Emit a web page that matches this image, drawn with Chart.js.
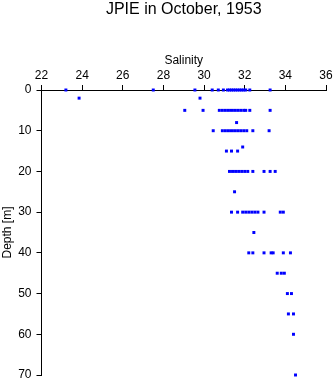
<!DOCTYPE html>
<html>
<head>
<meta charset="utf-8">
<script src="https://cdn.jsdelivr.net/npm/chart.js@4/dist/chart.umd.min.js"></script>
<style>
    html, body { margin: 0; padding: 0; background: #fff; }
    #wrap { width: 335px; height: 384px; position: relative; }
</style>
</head>
<body>
<div id="wrap"><canvas id="ctdChart"></canvas></div>
<script>
// sampling depths [m] and the salinity readings taken at each depth
const depths = [0, 2, 5, 8, 10, 14, 15, 20, 25, 30, 35, 40, 45, 50, 55, 60, 70];
const salinityAt = [
    [23.2, 27.5, 29.55, 30.4, 30.7, 30.95, 31.15, 31.25, 31.35, 31.45, 31.55, 31.65, 31.75, 31.85, 31.95, 32.05, 32.25, 33.25],
    [23.85, 29.8],
    [29.05, 29.95, 30.75, 30.9, 31.05, 31.2, 31.35, 31.5, 31.65, 31.8, 31.95, 32.05, 32.25, 33.25],
    [31.6],
    [30.45, 30.9, 31.05, 31.2, 31.35, 31.5, 31.65, 31.8, 31.95, 32.1, 32.4, 33.2],
    [31.9],
    [31.1, 31.35, 31.65],
    [31.25, 31.4, 31.55, 31.7, 31.85, 32.0, 32.15, 32.4, 32.95, 33.25, 33.5],
    [31.5],
    [31.35, 31.65, 31.9, 32.05, 32.2, 32.35, 32.5, 32.65, 32.95, 33.75, 33.9],
    [32.45],
    [32.2, 32.4, 32.95, 33.3, 33.4, 33.9, 34.25],
    [33.6, 33.8, 33.95],
    [34.1, 34.3],
    [34.15, 34.4],
    [34.4],
    [34.5]
];
const salinityTicks = [22, 24, 26, 28, 30, 32, 34, 36];
const depthTicks = [0, 10, 20, 30, 40, 50, 60, 70];

document.addEventListener('DOMContentLoaded', () => {
    const ctx = document.getElementById('ctdChart').getContext('2d');

    const points = [];
    depths.forEach((d, i) => {
        salinityAt[i].forEach(s => points.push({ x: s, y: d }));
    });

    const font = { family: '"Liberation Sans", Arial, sans-serif', size: 12 };

    new Chart(ctx, {
        type: 'scatter',
        data: {
            datasets: [{
                label: 'Salinity',
                data: points,
                backgroundColor: '#0000ff',
                pointStyle: 'rect',
                pointRadius: 2.1,
                pointBorderWidth: 0,
                pointHoverRadius: 2.1,
                clip: false
            }]
        },
        options: {
            responsive: true,
            maintainAspectRatio: false,
            animation: false,
            layout: { padding: { left: 0, right: 9, top: 0, bottom: 9 } },
            plugins: {
                legend: { display: false },
                tooltip: { enabled: false },
                title: {
                    display: true,
                    text: 'JPIE in October, 1953',
                    fullSize: false,
                    color: '#000',
                    font: { family: font.family, size: 16, weight: 'normal' },
                    padding: { top: 0, bottom: 0 }
                }
            },
            scales: {
                x: {
                    type: 'linear',
                    position: 'top',
                    min: 22,
                    max: 36,
                    afterBuildTicks: (scale) => {
                        scale.ticks = salinityTicks.map(v => ({ value: v }));
                    },
                    afterFit: (scale) => { scale.height = 70.8; },
                    title: {
                        display: true,
                        text: 'Salinity',
                        color: '#000',
                        font: font,
                        padding: { top: 34.6, bottom: 0 }
                    },
                    ticks: { color: '#000', font: font, padding: 2, maxRotation: 0 },
                    grid: {
                        drawOnChartArea: false,
                        tickLength: 5,
                        color: '#000',
                        lineWidth: 1
                    },
                    border: { color: '#000', width: 1 }
                },
                y: {
                    type: 'linear',
                    position: 'left',
                    reverse: true,
                    min: 0,
                    max: 70,
                    afterBuildTicks: (scale) => {
                        scale.ticks = depthTicks.map(v => ({ value: v }));
                    },
                    afterFit: (scale) => {
                        scale.width = 41.5;
                        // the bottom label may hang past the plot; keep the axis at 375px
                        scale.paddingBottom = 0;
                        scale.paddingTop = 0;
                    },
                    title: {
                        display: true,
                        text: 'Depth [m]',
                        color: '#000',
                        font: font,
                        padding: { top: 0, bottom: 0 }
                    },
                    ticks: { color: '#000', font: font, padding: 5 },
                    grid: {
                        drawOnChartArea: false,
                        tickLength: 5,
                        color: '#000',
                        lineWidth: 1
                    },
                    border: { color: '#000', width: 1 }
                }
            }
        }
    });
});
</script>
</body>
</html>
